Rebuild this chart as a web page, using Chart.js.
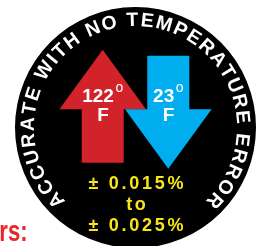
<!DOCTYPE html>
<html>
<head>
<meta charset="utf-8">
<script src="https://cdn.jsdelivr.net/npm/chart.js@4.4.1/dist/chart.umd.min.js"></script>
<style>
html, body { margin: 0; padding: 0; background: #fff; overflow: hidden; }
#badge { display: block; }
</style>
</head>
<body>
<canvas id="badge" width="260" height="256"></canvas>
<script>
// Badge content
const badgeSlices = [1];
const badgeColors = ['#000000'];
const ringText = 'ACCURATE WITH NO TEMPERATURE ERROR';
const temperatures = [122, 23];
const tempUnit = 'F';
const arrowDirections = ['up', 'down'];
const arrowColors = ['#d2232a', '#00aeef'];
const accuracyLines = ['± 0.015%', 'to', '± 0.025%'];
const cornerLabel = 'rs:';

const FONT = "'Liberation Sans', Arial, Helvetica, sans-serif";

// draw text with extra space between letters, centred on x
function spacedText(ctx, text, x, y, spacing) {
    const chars = [...text];
    const w = chars.map(c => ctx.measureText(c).width);
    const total = w.reduce((a, b) => a + b, 0) + spacing * (chars.length - 1);
    let px = x - total / 2;
    ctx.textAlign = 'left';
    chars.forEach((c, i) => {
        ctx.fillText(c, px, y);
        px += w[i] + spacing;
    });
}

const badgeArt = {
    id: 'badgeArt',
    afterDatasetsDraw(chart) {
        const arc = chart.getDatasetMeta(0).data[0];
        const ctx = chart.ctx;
        const cx = arc.x, cy = arc.y, R = arc.outerRadius;
        const u = R / 120.5;

        ctx.save();

        // text round the rim
        ctx.font = `bold ${19.5 * u}px ${FONT}`;
        ctx.fillStyle = '#ffffff';
        ctx.textAlign = 'center';
        ctx.textBaseline = 'alphabetic';
        const chars = [...ringText];
        const widths = chars.map(c => ctx.measureText(c).width);
        const r = 101.5 * u;
        const span = 265 * Math.PI / 180 * r;
        const inner = widths.reduce((a, b) => a + b, 0) - widths[0] / 2 - widths[widths.length - 1] / 2;
        const gap = (span - inner) / (chars.length - 1);
        let pos = -span / 2;
        chars.forEach((c, i) => {
            if (i > 0) pos += widths[i - 1] / 2 + gap + widths[i] / 2;
            ctx.save();
            ctx.translate(cx, cy);
            ctx.rotate(pos / r);
            ctx.fillText(c, 0, -r);
            ctx.restore();
        });

        // arrows
        const baseY = cy - 18.2 * u;
        const headHalf = 43.3 * u, headLen = 59.5 * u;
        const shaftHalf = 21 * u, shaftLen = 53.5 * u;
        temperatures.forEach((t, i) => {
            const d = arrowDirections[i] === 'up' ? -1 : 1;
            const ax = cx + d * 32.8 * u;
            ctx.fillStyle = arrowColors[i];
            ctx.beginPath();
            ctx.moveTo(ax, baseY + d * headLen);
            ctx.lineTo(ax + headHalf, baseY);
            ctx.lineTo(ax + shaftHalf, baseY);
            ctx.lineTo(ax + shaftHalf, baseY - d * shaftLen);
            ctx.lineTo(ax - shaftHalf, baseY - d * shaftLen);
            ctx.lineTo(ax - shaftHalf, baseY);
            ctx.lineTo(ax - headHalf, baseY);
            ctx.closePath();
            ctx.fill();

            // temperature label
            ctx.fillStyle = '#ffffff';
            ctx.font = `bold ${19 * u}px ${FONT}`;
            const num = String(t);
            const numW = ctx.measureText(num).width;
            ctx.font = `${14 * u}px ${FONT}`;
            const degW = ctx.measureText('o').width;
            const left = ax - (numW + 1.5 * u + degW) / 2;
            ctx.textAlign = 'left';
            ctx.font = `bold ${19 * u}px ${FONT}`;
            ctx.fillText(num, left, cy - 25.8 * u);
            ctx.font = `${14 * u}px ${FONT}`;
            ctx.fillText('o', left + numW + 1.5 * u, cy - 35.8 * u);
            ctx.font = `bold ${19 * u}px ${FONT}`;
            ctx.textAlign = 'center';
            ctx.fillText(tempUnit, ax + 0.3 * u, cy - 6.3 * u);
        });

        // accuracy range
        ctx.fillStyle = '#f6e619';
        ctx.font = `bold ${18 * u}px ${FONT}`;
        accuracyLines.forEach((line, i) => {
            spacedText(ctx, line, cx + 0.5 * u, cy + (61.5 + 21 * i) * u, 2.7 * u);
        });

        // cut-off heading at the lower left of the page
        ctx.fillStyle = '#e8262c';
        ctx.font = `bold 29px ${FONT}`;
        ctx.textAlign = 'right';
        ctx.translate(27.5, 241);
        ctx.scale(0.76, 1);
        ctx.fillText(cornerLabel, 0, 0);

        ctx.restore();
    }
};

new Chart(document.getElementById('badge'), {
    type: 'pie',
    data: {
        labels: ['badge'],
        datasets: [{
            data: badgeSlices,
            backgroundColor: badgeColors,
            borderWidth: 0
        }]
    },
    options: {
        responsive: false,
        animation: false,
        events: [],
        layout: {
            padding: { left: 15, right: 4, top: 7, bottom: 8 }
        },
        plugins: {
            legend: { display: false },
            tooltip: { enabled: false }
        }
    },
    plugins: [badgeArt]
});
</script>
</body>
</html>
